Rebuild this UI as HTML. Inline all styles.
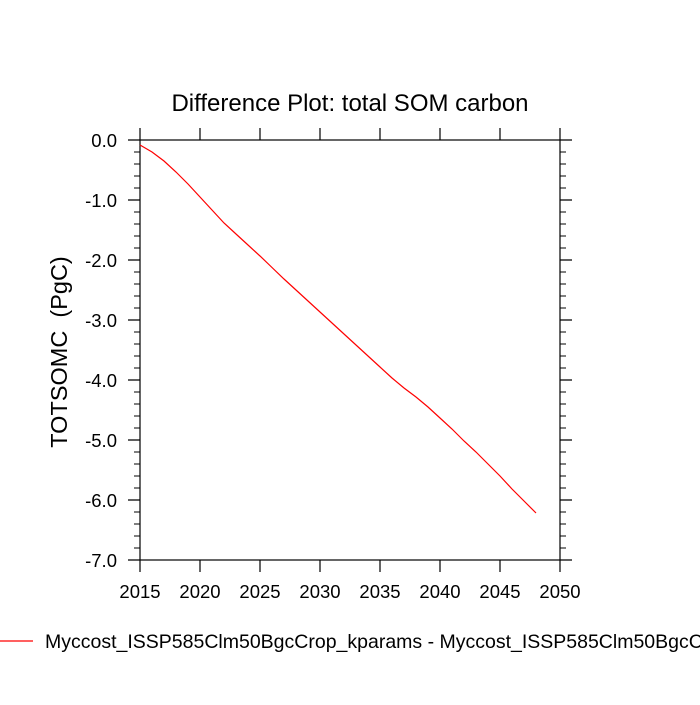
<!DOCTYPE html>
<html><head><meta charset="utf-8"><style>body{margin:0;background:#fff}</style></head><body>
<svg width="700" height="700" xmlns="http://www.w3.org/2000/svg" font-family="Liberation Sans, sans-serif">
<rect width="700" height="700" fill="#fff"/>
<text x="350" y="111" font-size="24" text-anchor="middle">Difference Plot: total SOM carbon</text>
<g stroke="#000" stroke-width="1.2" fill="none">
<rect x="140" y="140" width="420" height="420"/>
<path d="M140,140v-12M200,140v-12M260,140v-12M320,140v-12M380,140v-12M440,140v-12M500,140v-12M560,140v-12
M140,560v12M200,560v12M260,560v12M320,560v12M380,560v12M440,560v12M500,560v12M560,560v12
M140,140h-12M140,200h-12M140,260h-12M140,320h-12M140,380h-12M140,440h-12M140,500h-12M140,560h-12
M560,140h12M560,200h12M560,260h12M560,320h12M560,380h12M560,440h12M560,500h12M560,560h12"/>
<path stroke-width="1" d="M140,152h-6M140,164h-6M140,176h-6M140,188h-6M140,212h-6M140,224h-6M140,236h-6M140,248h-6M140,272h-6M140,284h-6M140,296h-6M140,308h-6M140,332h-6M140,344h-6M140,356h-6M140,368h-6M140,392h-6M140,404h-6M140,416h-6M140,428h-6M140,452h-6M140,464h-6M140,476h-6M140,488h-6M140,512h-6M140,524h-6M140,536h-6M140,548h-6
M560,152h6M560,164h6M560,176h6M560,188h6M560,212h6M560,224h6M560,236h6M560,248h6M560,272h6M560,284h6M560,296h6M560,308h6M560,332h6M560,344h6M560,356h6M560,368h6M560,392h6M560,404h6M560,416h6M560,428h6M560,452h6M560,464h6M560,476h6M560,488h6M560,512h6M560,524h6M560,536h6M560,548h6"/>
</g>
<g font-size="18.5" text-anchor="end">
<text x="117" y="147">0.0</text><text x="117" y="207">-1.0</text><text x="117" y="267">-2.0</text><text x="117" y="327">-3.0</text><text x="117" y="387">-4.0</text><text x="117" y="447">-5.0</text><text x="117" y="507">-6.0</text><text x="117" y="567">-7.0</text>
</g>
<g font-size="18.5" text-anchor="middle">
<text x="140" y="598">2015</text><text x="200" y="598">2020</text><text x="260" y="598">2025</text><text x="320" y="598">2030</text><text x="380" y="598">2035</text><text x="440" y="598">2040</text><text x="500" y="598">2045</text><text x="560" y="598">2050</text>
</g>
<text transform="translate(67,352) rotate(-90)" font-size="23.5" text-anchor="middle" xml:space="preserve" style="white-space:pre">TOTSOMC  (PgC)</text>
<polyline fill="none" stroke="#f00" stroke-width="1.2" points="140,145 152,152 164,161 176,172 188,184 200,197 212,210 224,223 236,234 248,245 260,256 272,267.5 284,279 296,290 308,301 320,312 332,323 344,334 356,345 368,356 380,367 392,378 404,388 416,397 428,407 440,418 452,429 464,441 476,452 488,464 500,476 512,489 524,501 536,513"/>
<line x1="0" y1="641" x2="33" y2="641" stroke="#f00" stroke-width="1.2"/>
<text x="45" y="648" font-size="19.5">Myccost_ISSP585Clm50BgcCrop_kparams - Myccost_ISSP585Clm50BgcCrop</text>
</svg>
</body></html>
